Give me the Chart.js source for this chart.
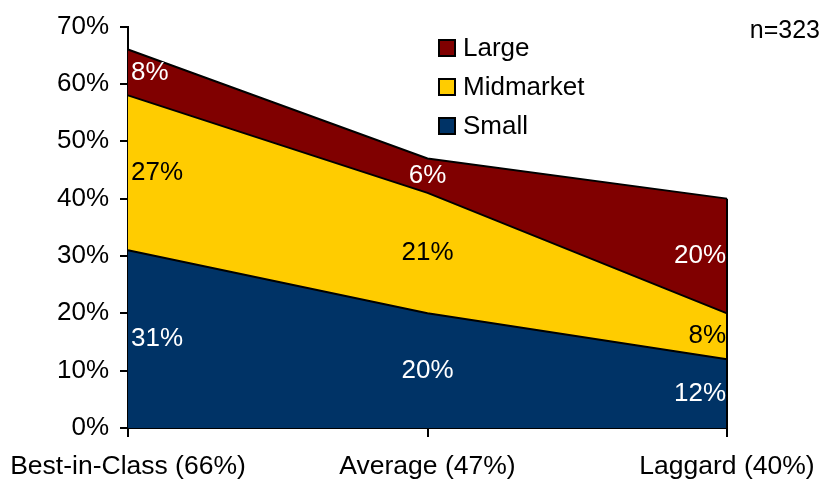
<!DOCTYPE html>
<html>
<head>
<meta charset="utf-8">
<script src="https://cdn.jsdelivr.net/npm/chart.js@4/dist/chart.umd.min.js"></script>
<style>
  html, body { margin: 0; padding: 0; background: #fff; }
  #wrap { width: 828px; height: 480px; }
</style>
</head>
<body>
<div id="wrap"><canvas id="myChart"></canvas></div>
<script>
const categories = ['Best-in-Class (66%)', 'Average (47%)', 'Laggard (40%)'];
const small = [31, 20, 12];
const midmarket = [27, 21, 8];
const large = [8, 6, 20];
const yTicks = [0, 10, 20, 30, 40, 50, 60, 70];
const sampleNote = 'n=323';

const FONT = 'Arial, "Liberation Sans", sans-serif';

// percentage labels in the middle of each band
const bandLabels = {
    id: 'bandLabels',
    afterDatasetsDraw(chart) {
        const ctx = chart.ctx;
        const x = chart.scales.x;
        const y = chart.scales.y;
        ctx.save();
        ctx.font = '26px ' + FONT;
        ctx.textBaseline = 'middle';
        const base = categories.map(() => 0);
        chart.data.datasets.forEach(ds => {
            ds.data.forEach((v, i) => {
                const mid = base[i] + v / 2;
                base[i] += v;
                let px = x.getPixelForValue(i);
                if (i === 0) { ctx.textAlign = 'left'; px += 3; }
                else if (i === categories.length - 1) { ctx.textAlign = 'right'; px -= 1; }
                else ctx.textAlign = 'center';
                ctx.fillStyle = ds.labelColor;
                ctx.fillText(v + '%', px, y.getPixelForValue(mid));
            });
        });
        ctx.restore();
    }
};

// closing edge of the stacked area at the last category, legend and sample note
const extras = {
    id: 'extras',
    afterDraw(chart) {
        const ctx = chart.ctx;
        const x = chart.scales.x;
        const y = chart.scales.y;
        const last = categories.length - 1;
        const total = small[last] + midmarket[last] + large[last];
        const px = x.getPixelForValue(last);
        ctx.save();
        ctx.strokeStyle = '#000';
        ctx.lineWidth = 2;
        ctx.beginPath();
        ctx.moveTo(px, y.getPixelForValue(0));
        ctx.lineTo(px, y.getPixelForValue(total));
        ctx.stroke();

        // legend, top series first
        const items = chart.data.datasets.slice().reverse();
        const lx = 439, ly = 48;
        ctx.font = '26px ' + FONT;
        ctx.textAlign = 'left';
        ctx.textBaseline = 'middle';
        items.forEach((ds, k) => {
            const cy = ly + k * 39;
            ctx.fillStyle = ds.backgroundColor;
            ctx.fillRect(lx, cy - 8, 16, 16);
            ctx.lineWidth = 2;
            ctx.strokeStyle = '#000';
            ctx.strokeRect(lx, cy - 8, 16, 16);
            ctx.fillStyle = '#000';
            ctx.fillText(ds.label, lx + 24, cy + 1);
        });

        ctx.font = '25px ' + FONT;
        ctx.textAlign = 'right';
        ctx.fillText(sampleNote, 820, 31);
        ctx.restore();
    }
};

const ctx = document.getElementById('myChart').getContext('2d');
const myChart = new Chart(ctx, {
    type: 'line',
    data: {
        labels: categories,
        datasets: [
            { label: 'Small', data: small, backgroundColor: '#003366', labelColor: '#fff', fill: 'origin' },
            { label: 'Midmarket', data: midmarket, backgroundColor: '#FFCC00', labelColor: '#000', fill: '-1' },
            { label: 'Large', data: large, backgroundColor: '#800000', labelColor: '#fff', fill: '-1' }
        ].map(ds => Object.assign(ds, {
            borderColor: '#000',
            borderWidth: 2,
            pointRadius: 0,
            tension: 0
        }))
    },
    options: {
        responsive: true,
        maintainAspectRatio: false,
        animation: false,
        layout: { padding: { left: 0, right: 101, top: 24, bottom: 0 } },
        plugins: {
            legend: { display: false },
            tooltip: { enabled: false }
        },
        scales: {
            x: {
                offset: false,
                grid: { drawOnChartArea: false, drawTicks: true, tickLength: 9, color: '#000', lineWidth: 2 },
                border: { display: true, color: '#000', width: 2 },
                ticks: { color: '#000', font: { family: FONT, size: 26.5 }, padding: 14, maxRotation: 0 },
                afterFit(scale) {
                    scale.height = 52;
                    scale.paddingLeft = 0;
                    scale.paddingRight = 0;
                }
            },
            y: {
                stacked: true,
                min: 0,
                max: 70,
                afterBuildTicks(scale) { scale.ticks = yTicks.map(v => ({ value: v })); },
                grid: { drawOnChartArea: false, drawTicks: true, tickLength: 8, color: '#000', lineWidth: 2 },
                border: { display: true, color: '#000', width: 2 },
                ticks: {
                    color: '#000',
                    font: { family: FONT, size: 26 },
                    padding: 11,
                    callback: v => v + '%'
                },
                afterFit(scale) { scale.width = 128; }
            }
        }
    },
    plugins: [bandLabels, extras]
});
</script>
</body>
</html>
